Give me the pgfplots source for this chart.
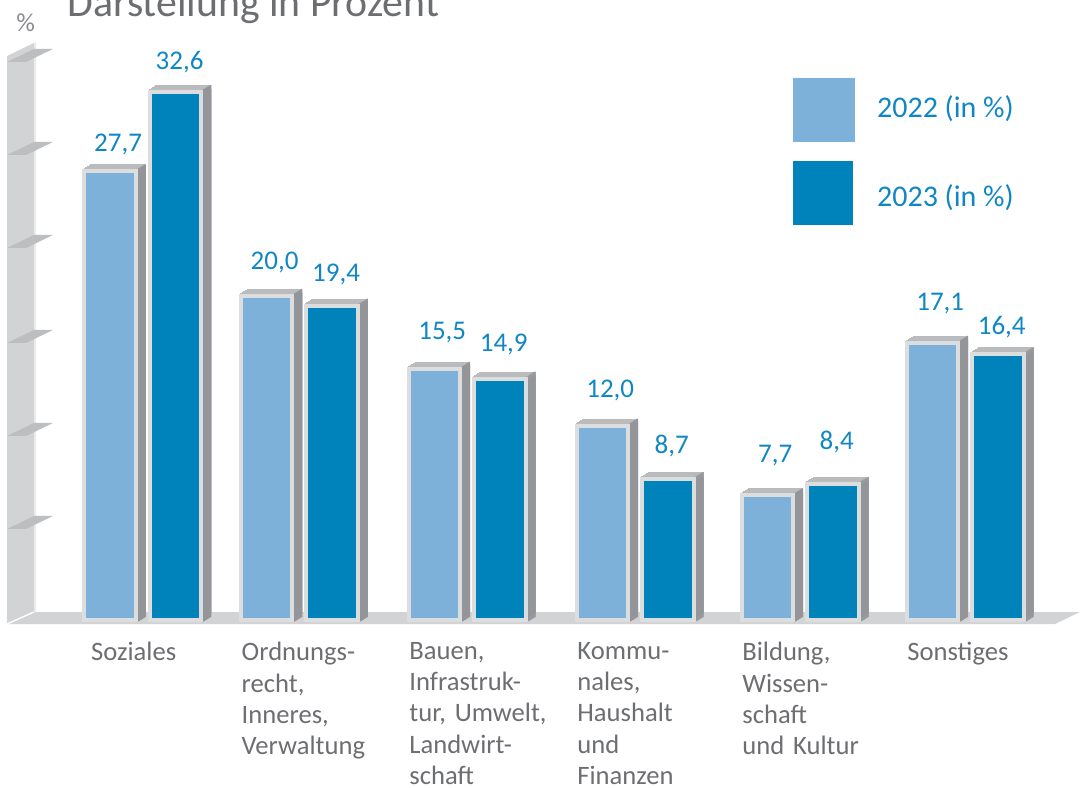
\documentclass[border=0pt]{standalone}
\usepackage{pgfplots}
\pgfplotsset{compat=1.18}
\usepackage{pgfplotstable}
\usepackage{fontspec}
\setmainfont{Carlito}
\definecolor{lb}{HTML}{7DB1D9}
\definecolor{db}{HTML}{0082BA}
\definecolor{txtblue}{HTML}{1087C4}
\definecolor{txtgray}{HTML}{6D6E71}
\definecolor{bordergray}{HTML}{DCDDDE}
\definecolor{topgray}{HTML}{B9BBBD}
\definecolor{sidegray}{HTML}{939598}
\definecolor{wallgray}{HTML}{D1D3D4}
\definecolor{ledgegray}{HTML}{BCBEC0}

\pgfplotstableread{
x y off
142.8 27.7 20
299.3 20.0 26
467 15.5 29
635 12.0 27.6
800 7.7 33
965 17.1 32
}\tA
\pgfplotstableread{
x y off
142.8 32.6 22
299.3 19.4 24
467 14.9 27
635 8.7 26
800 8.4 34
965 16.4 20
}\tB

\begin{document}
\begin{tikzpicture}
\begin{scope}[x=0.5pt,y=-0.5pt,shift={(0pt,393.5pt)}]
\fill[wallgray] (7,624) -- (1055,624) -- (1080,612) -- (34,612) -- cycle;
\fill[wallgray] (7,624) -- (7,56) -- (34,43) -- (34,612) -- cycle;
\fill[white!55!wallgray] (34,43) -- (36,42) -- (36,612) -- (34,612) -- cycle;
\draw[white, line width=0.7pt] (7,624) -- (34,612);
\foreach \yb in {62,155,248,343,436,529}
  \fill[ledgegray] (7,\yb) -- (34,\yb-13) -- (53,\yb-13) -- (26,\yb) -- cycle;
\node[anchor=base west, inner sep=0pt, text=txtgray, font=\fontsize{20.9}{24}\selectfont] at (67,17) {Darstellung in Prozent};
\node[anchor=base west, inner sep=0pt, text=txtgray!80, font=\fontsize{13}{15}\selectfont] at (16,32) {\%};
\end{scope}

\begin{axis}[
  at={(0pt,83.5pt)}, anchor=south west,
  scale only axis, width=540pt, height=310pt,
  xmin=0, xmax=1080, ymin=0, ymax=38.2716,
  clip=false,
  axis line style={draw=none},
  ytick=\empty,
  xtick={142.8,299.3,467,635,800,965},
  xticklabels={{\hspace*{3pt}Soziales},{Ordnungs-\\recht,\\Inneres,\\Verwaltung},{Bauen,\\Infrastruk-\\tur, Umwelt,\\Landwirt-\\schaft},{Kommu-\\nales,\\Haushalt\\und\\Finanzen},{Bildung,\\Wissen-\\schaft\\und Kultur},{Sonstiges}},
  major tick length=0pt,
  xticklabel style={anchor=north west, inner sep=0pt, xshift=-29pt, yshift=-11pt, text width=75pt, align=left, text=txtgray, font=\fontsize{13.3}{15.6}\selectfont},
  legend style={at={(0.734,0.8753)}, anchor=north west, draw=none, fill=none, inner sep=0pt, row sep=9.7pt, column sep=11pt, nodes={inner sep=0pt, text=txtblue, font=\fontsize{15}{17}\selectfont}},
  legend cell align=left,
  /pgf/number format/fixed,
  /pgf/number format/fixed zerofill,
  /pgf/number format/precision=1,
  /pgf/number format/use comma,
  /pgf/number format/assume math mode=true,
]
% top/extrusion copies
\pgfplotsinvokeforeach{1,...,8}{
  \addplot[ybar, forget plot, bar width=25.75pt, bar shift={-16.375pt+#1*0.5pt}, yshift={#1*0.3125pt}, fill=topgray, draw=topgray, line width=2pt] table[x=x,y=y]{\tA};
  \addplot[ybar, forget plot, bar width=25.75pt, bar shift={16.375pt+#1*0.5pt}, yshift={#1*0.3125pt}, fill=topgray, draw=topgray, line width=2pt] table[x=x,y=y]{\tB};
}
% side strips
\pgfplotsinvokeforeach{0,...,8}{
  \addplot[ybar, forget plot, bar width=0.6pt, bar shift={-2.8pt+#1*0.5pt}, yshift={#1*0.3125pt+1pt}, fill=sidegray, draw=none] table[x=x,y=y]{\tA};
  \addplot[ybar, forget plot, bar width=0.6pt, bar shift={-2.8pt+#1*0.5pt}, yshift={#1*0.3125pt-1pt}, fill=sidegray, draw=none] table[x=x,y=y]{\tA};
  \addplot[ybar, forget plot, bar width=0.6pt, bar shift={29.95pt+#1*0.5pt}, yshift={#1*0.3125pt+1pt}, fill=sidegray, draw=none] table[x=x,y=y]{\tB};
  \addplot[ybar, forget plot, bar width=0.6pt, bar shift={29.95pt+#1*0.5pt}, yshift={#1*0.3125pt-1pt}, fill=sidegray, draw=none] table[x=x,y=y]{\tB};
}
% front faces
\addplot[ybar, bar width=25.75pt, bar shift=-16.375pt, fill=lb, draw=bordergray, line width=2pt,
  legend image code/.code={\fill[lb] (0pt,-15.9pt) rectangle (29pt,14.1pt);},
  nodes near coords,
  visualization depends on={\thisrow{off} \as \labeloff},
  every node near coord/.append style={anchor=base, inner sep=0pt, yshift=\labeloff*0.5pt, xshift=-12.375pt, text=txtblue, font=\fontsize{13.5}{16}\selectfont}
] table[x=x,y=y]{\tA};
\addlegendentry{2022 (in \%)}
\addplot[ybar, bar width=25.75pt, bar shift=16.375pt, fill=db, draw=bordergray, line width=2pt,
  legend image code/.code={\fill[db] (0pt,-12.9pt) rectangle (28pt,17.1pt);},
  nodes near coords,
  visualization depends on={\thisrow{off} \as \labeloff},
  every node near coord/.append style={anchor=base, inner sep=0pt, yshift=\labeloff*0.5pt, xshift=18.375pt, text=txtblue, font=\fontsize{13.5}{16}\selectfont}
] table[x=x,y=y]{\tB};
\addlegendentry{2023 (in \%)}
\end{axis}
\pgfresetboundingbox
\path[use as bounding box] (0pt,0pt) rectangle (540pt,393.5pt);
\end{tikzpicture}
\end{document}
